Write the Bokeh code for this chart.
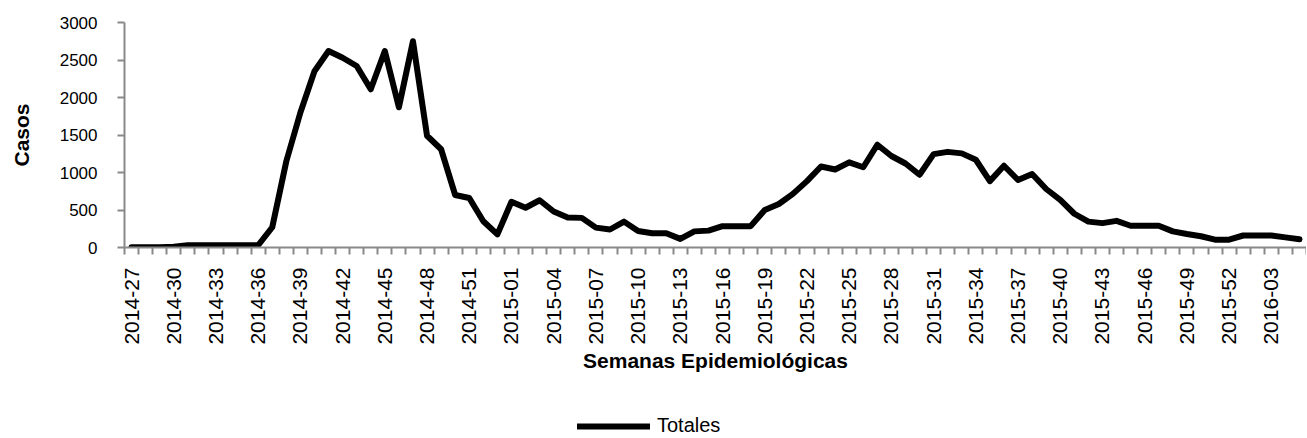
import math
from bokeh.plotting import figure
from bokeh.layouts import column
from bokeh.models import Range1d, FixedTicker, Legend, LegendItem, ColumnDataSource
from bokeh.embed import file_html
from bokeh.resources import INLINE

# ---- data ----
weeks = ([f"2014-{w:02d}" for w in range(27, 54)]
         + [f"2015-{w:02d}" for w in range(1, 53)]
         + [f"2016-{w:02d}" for w in range(1, 6)])

totales = [3, 5, 5, 10, 30, 30, 30, 30, 30, 30,
           270, 1150, 1800, 2350, 2620, 2530, 2420, 2110, 2620, 1870,
           2750, 1490, 1310, 700, 660, 350, 175, 610, 530, 630,
           480, 400, 395, 265, 240, 345, 220, 190, 190, 115,
           215, 225, 285, 285, 285, 500, 580, 715, 885, 1080,
           1040, 1135, 1070, 1370, 1220, 1120, 970, 1245, 1275, 1255,
           1170, 885, 1090, 900, 980, 780, 635, 450, 345, 325,
           355, 290, 290, 290, 215, 180, 150, 105, 105, 160,
           160, 160, 135, 110]

y_ticks = [0, 500, 1000, 1500, 2000, 2500, 3000]
label_step = 3

x_title = "Semanas Epidemiológicas"
y_title = "Casos"
series_name = "Totales"

# ---- figure ----
idx = list(range(len(weeks)))
src = ColumnDataSource(data=dict(x=idx, y=totales, week=weeks))

FONT = "Liberation Sans"
GRAY = "#898989"
W = 1306
H1, H2 = 390, 47
LINE_STYLE = dict(line_color="black", line_width=6, line_join="round", line_cap="round")

p = figure(width=W, height=H1, output_backend="svg", toolbar_location=None,
           x_range=Range1d(-0.5, len(weeks) - 0.5), y_range=Range1d(0, 3000),
           min_border_left=124, min_border_right=0, min_border_top=22,
           min_border_bottom=H1 - 247)
p.outline_line_color = None
p.xgrid.visible = False
p.ygrid.visible = False
p.background_fill_color = "white"
p.border_fill_color = "white"

r = p.line("x", "y", source=src, **LINE_STYLE)

# x axis
major = idx[::label_step]
p.xaxis.ticker = FixedTicker(ticks=major, minor_ticks=[i - 0.5 for i in range(len(weeks) + 1)])
p.xaxis.major_label_overrides = {i: weeks[i] for i in major}
p.xaxis.major_label_orientation = math.pi / 2
p.xaxis.major_tick_out = 0
p.xaxis.major_tick_in = 0
p.xaxis.minor_tick_out = 7
p.xaxis.minor_tick_in = 0
p.xaxis.minor_tick_line_color = GRAY
p.xaxis.minor_tick_line_width = 2
p.xaxis.axis_line_color = GRAY
p.xaxis.axis_line_width = 2
p.xaxis.major_label_text_font = FONT
p.xaxis.major_label_text_font_size = "21px"
p.xaxis.major_label_text_color = "black"
p.xaxis.major_label_standoff = 13
p.xaxis.axis_label = x_title
p.xaxis.axis_label_text_font = FONT
p.xaxis.axis_label_text_font_style = "bold"
p.xaxis.axis_label_text_font_size = "21px"
p.xaxis.axis_label_text_color = "black"
p.xaxis.axis_label_standoff = 1

# y axis
p.yaxis.ticker = FixedTicker(ticks=y_ticks)
p.yaxis.major_tick_out = 7
p.yaxis.major_tick_in = 0
p.yaxis.minor_tick_out = 0
p.yaxis.minor_tick_in = 0
p.yaxis.major_tick_line_color = GRAY
p.yaxis.major_tick_line_width = 2
p.yaxis.axis_line_color = GRAY
p.yaxis.axis_line_width = 2
p.yaxis.major_label_text_font = FONT
p.yaxis.major_label_text_font_size = "17px"
p.yaxis.major_label_text_color = "black"
p.yaxis.major_label_standoff = 20
p.yaxis.axis_label = y_title
p.yaxis.axis_label_text_font = FONT
p.yaxis.axis_label_text_font_style = "bold"
p.yaxis.axis_label_text_font_size = "21px"
p.yaxis.axis_label_text_color = "black"
p.yaxis.axis_label_standoff = 24

# legend strip (separate small figure below the chart); the series is drawn
# there out of view so that the legend can show its line style
p2 = figure(width=W, height=H2, output_backend="svg", toolbar_location=None,
            x_range=Range1d(0, 1), y_range=Range1d(-2, -1),
            x_axis_location=None, y_axis_location=None,
            min_border_left=0, min_border_right=0, min_border_top=0, min_border_bottom=0)
p2.outline_line_color = None
p2.xgrid.visible = False
p2.ygrid.visible = False
r2 = p2.line("x", "y", source=src, **LINE_STYLE)
legend = Legend(items=[LegendItem(label=series_name, renderers=[r2])],
                location=(453, 0), orientation="horizontal",
                border_line_color=None, background_fill_alpha=0,
                padding=0, margin=0, glyph_width=73, glyph_height=20,
                label_standoff=7, label_text_font=FONT,
                label_text_font_size="20px", label_text_color="black")
p2.add_layout(legend, "center")

layout = column(p, p2, spacing=0)
open("out.html", "w").write(file_html(layout, INLINE))
